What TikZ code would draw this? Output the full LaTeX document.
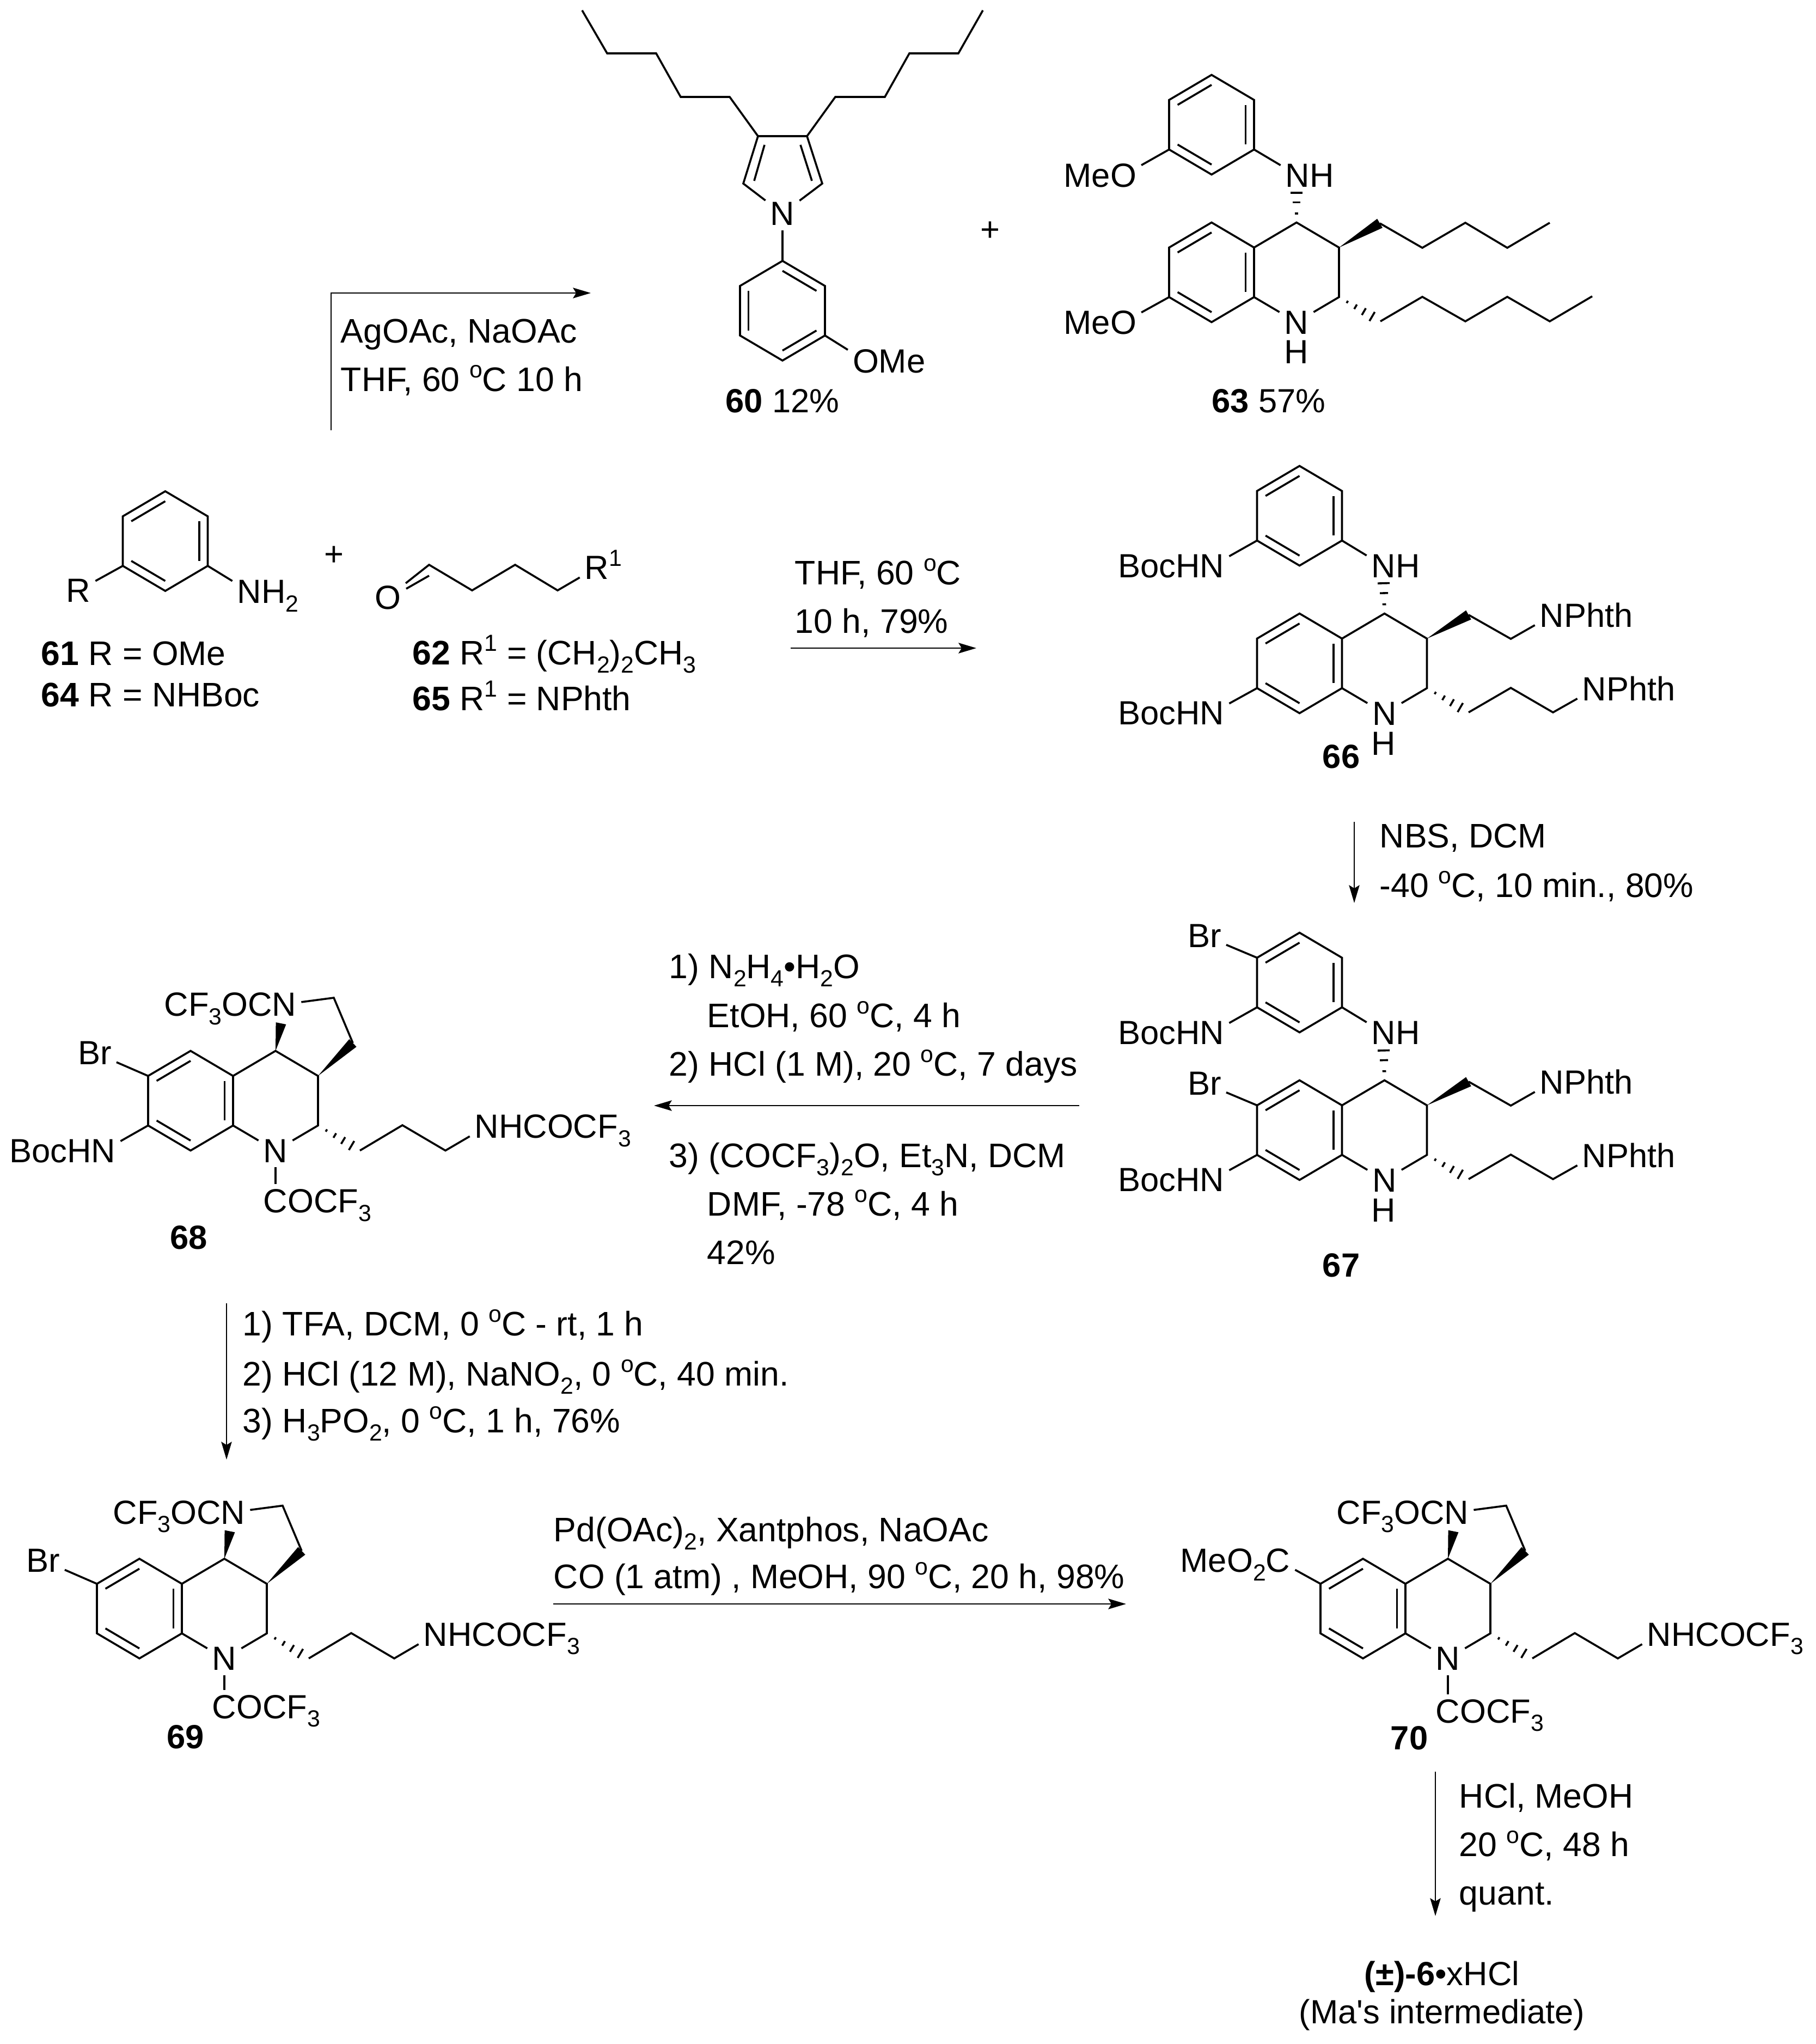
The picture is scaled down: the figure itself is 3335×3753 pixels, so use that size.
\documentclass[tikz,border=0pt]{standalone}
\usepackage{fontspec}
\setmainfont{Liberation Sans}
\usetikzlibrary{arrows.meta,calc}

\newcommand{\bsub}[1]{\raisebox{-3.2pt}{\fontsize{8.9}{9}\selectfont #1}}
\newcommand{\bsup}[1]{\raisebox{5pt}{\fontsize{8.9}{9}\selectfont #1}}

\tikzset{
	bondline/.style={line width=0.75pt,line join=miter},
	atomlab/.style={inner sep=1.7pt,text height=9pt,text depth=0pt},
	hlab/.style={inner sep=0pt,text height=9pt,text depth=0pt},
	condtxt/.style={anchor=base west,inner sep=0pt,font=\fontsize{13}{15}\selectfont},
	cmpdlab/.style={anchor=base,inner sep=0pt},
	rxnarrow/.style={line width=0.6pt,-{Stealth[length=6.8pt,width=4pt,inset=1.2pt]}}
}

% benzene ring: name, centre x, centre y, half width (negative mirrors it)
\newcommand{\sixring}[4]{
	\begin{scope}[shift={(#2,#3)}]
		\coordinate (#1-c) at (0,0);
		\coordinate (#1-t) at (0,-91.5);
		\coordinate (#1-ur) at (#4,-45.5);
		\coordinate (#1-lr) at (#4,45.5);
		\coordinate (#1-b) at (0,91.5);
		\coordinate (#1-ll) at ({-1*(#4)},45.5);
		\coordinate (#1-ul) at ({-1*(#4)},-45.5);
	\end{scope}
	\draw[bondline] (#1-t) -- (#1-ur) -- (#1-lr) -- (#1-b) -- (#1-ll) -- (#1-ul) -- cycle;
	\draw[bondline] ($(#1-c)!.8!(#1-ul)$) -- ($(#1-c)!.8!(#1-t)$);
	\draw[bondline] ($(#1-c)!.8!(#1-ur)$) -- ($(#1-c)!.8!(#1-lr)$);
	\draw[bondline] ($(#1-c)!.8!(#1-ll)$) -- ($(#1-c)!.8!(#1-b)$);
}
% ring with the saturated N ring on its right
\newcommand{\quincore}[3]{
	\sixring{#1}{#2}{#3}{78}
	\begin{scope}[shift={(#2,#3)}]
		\coordinate (#1-4) at (156,-91.5);
		\coordinate (#1-3) at (234,-45.5);
		\coordinate (#1-2) at (234,45.5);
		\node[atomlab] (#1-n) at (156,91.5) {N};
	\end{scope}
	\draw[bondline] (#1-ur) -- (#1-4) -- (#1-3) -- (#1-2) -- (#1-n) -- (#1-lr);
}
\newcommand{\wedgeb}[2]{
	\fill ($(#2)!2pt!90:(#1)$) -- (#1) -- ($(#2)!2pt!-90:(#1)$) -- cycle;
}
\newcommand{\hashb}[3]{
	\foreach \hp in {#3}{
		\draw[bondline] ($(#1)!\hp!(#2)!\hp*2.5pt!90:(#2)$) -- ($(#1)!\hp!(#2)!\hp*2.5pt!-90:(#2)$);
	}
}
% two NPhth side chains of 66 and 67
\newcommand{\phthchains}[3]{
	\begin{scope}[shift={(#2,#3)}]
		\coordinate (#1-wa) at (310.5,-89);
		\coordinate (#1-wb) at (310.5,90);
		\node[atomlab] (#1-na) at (463.5,-88) {N\rlap{Phth}};
		\node[atomlab] (#1-nb) at (541.5,47) {N\rlap{Phth}};
		\wedgeb{#1-3}{#1-wa}
		\hashb{#1-2}{#1-wb}{.2,.4,.6,.8}
		\draw[bondline] (#1-wa) -- (388,-45) -- (#1-na);
		\draw[bondline] (#1-wb) -- (388,45) -- (465.5,90) -- (#1-nb);
	\end{scope}
}
% tricyclic core of 68, 69, 70: last argument is the drop of the COCF3
\newcommand{\tricycle}[4]{
	\quincore{#1}{#2}{#3}
	\begin{scope}[shift={(#2,#3)}]
		\node[atomlab] (#1-pn) at (172,-177) {\llap{CF\bsub{3}OC}N};
		\coordinate (#1-p) at (263,-189);
		\coordinate (#1-wa) at (166,-142);
		\coordinate (#1-wb) at (298,-106);
		\coordinate (#1-hc) at (311,91.5);
		\node[atomlab] (#1-nc) at (544,47) {N\rlap{HCOCF\bsub{3}}};
		\node[atomlab] (#1-co) at (156,#4) {C\rlap{OCF\bsub{3}}};
		\wedgeb{#1-4}{#1-wa}
		\wedgeb{#1-3}{#1-wb}
		\hashb{#1-2}{#1-hc}{.2,.4,.6,.8}
		\draw[bondline] (#1-pn) -- (#1-p) -- (#1-wb);
		\draw[bondline] (#1-hc) -- (389,45) -- (468,91.5) -- (#1-nc);
		\draw[bondline] (#1-n) -- (#1-co);
	\end{scope}
}

\begin{document}
\begin{tikzpicture}[x=0.208pt,y=-0.208pt,every node/.style={font=\fontsize{12.8}{15}\selectfont}]
	\useasboundingbox (0,0) rectangle (3335,3753);

	% 60
	\sixring{a60}{1437}{570.5}{-78}
	\coordinate (p60-3) at (1392,250);
	\coordinate (p60-4) at (1482,250);
	\coordinate (p60-2) at (1365,337);
	\coordinate (p60-5) at (1510,337);
	\node[atomlab] (p60-n) at (1437,392) {N};
	\node[atomlab] (o60) at (1590,663) {O\rlap{Me}};
	\draw[bondline] (p60-n) -- (p60-2) -- (p60-3) -- (p60-4) -- (p60-5) -- (p60-n);
	\draw[bondline] (1404,266) -- (1385,332);
	\draw[bondline] (1470,266) -- (1491,332);
	\draw[bondline] (p60-n) -- (a60-t);
	\draw[bondline] (a60-ll) -- (o60);
	\draw[bondline] (p60-3) -- (1340,178) -- (1250,178) -- (1205,98) -- (1115,98) -- (1069,19);
	\draw[bondline] (p60-4) -- (1534,178) -- (1625,178) -- (1670,98) -- (1760,98) -- (1805,19);
	\node[cmpdlab] (lab60) at (1437,757) {\textbf{60} 12\%};
	\node[inner sep=0pt] (plus1) at (1818,425) {+};

	% 63
	\sixring{a63}{2225}{229}{78}
	\quincore{q63}{2225}{500}
	\node[atomlab] (o63a) at (2063,322) {\llap{Me}O};
	\node[atomlab] (o63b) at (2063,592) {\llap{Me}O};
	\node[atomlab] (nh63) at (2383,322) {N\rlap{H}};
	\node[hlab] (h63) at (2381,646) {H};
	\coordinate (q63-hx) at (2381,349);
	\coordinate (q63-wa) at (2534,410);
	\coordinate (q63-hb) at (2535,590);
	\draw[bondline] (a63-ll) -- (o63a);
	\draw[bondline] (q63-ll) -- (o63b);
	\draw[bondline] (a63-lr) -- (nh63);
	\hashb{q63-4}{q63-hx}{.28,.62,.92}
	\wedgeb{q63-3}{q63-wa}
	\hashb{q63-2}{q63-hb}{.2,.4,.6,.8}
	\draw[bondline] (q63-wa) -- (2612,455) -- (2691,409) -- (2768,455) -- (2846,409);
	\draw[bondline] (q63-hb) -- (2612,545) -- (2691,590) -- (2768,545) -- (2846,590) -- (2924,544);
	\node[cmpdlab] (lab63) at (2330,757) {\textbf{63} 57\%};

	% 61/64 and 62/65
	\sixring{a61}{303.5}{993.5}{78}
	\node[atomlab] (r61) at (144,1084) {R};
	\node[atomlab] (nh61) at (458,1086) {N\rlap{H\bsub{2}}};
	\draw[bondline] (a61-ll) -- (r61);
	\draw[bondline] (a61-lr) -- (nh61);
	\node[inner sep=0pt] (plus2) at (613,1021) {+};
	\node[atomlab] (o62) at (712,1097) {O};
	\coordinate (c62) at (788,1037);
	\node[atomlab] (r62) at (1096,1042) {R\rlap{\bsup{1}}};
	\draw[bondline] (o62) -- (c62) -- (867,1084) -- (946,1037) -- (1024,1084) -- (r62);
	\draw[bondline] (746,1081) -- (788,1057);
	\node[condtxt] (lab61) at (75,1221) {\textbf{61} R = OMe};
	\node[condtxt] (lab64) at (75,1297) {\textbf{64} R = NHBoc};
	\node[condtxt] (lab62) at (757,1220) {\textbf{62} R\bsup{1} = (CH\bsub{2})\bsub{2}CH\bsub{3}};
	\node[condtxt] (lab65) at (757,1304) {\textbf{65} R\bsup{1} = NPhth};

	% 66
	\sixring{a66}{2386.5}{947}{78}
	\quincore{q66}{2386.5}{1218}
	\node[atomlab] (n66a) at (2226,1039) {\llap{BocH}N};
	\node[atomlab] (n66b) at (2226,1309) {\llap{BocH}N};
	\node[atomlab] (nh66) at (2541,1039) {N\rlap{H}};
	\node[hlab] (h66) at (2541,1365) {H};
	\coordinate (q66-hx) at (2541,1066);
	\draw[bondline] (a66-ll) -- (n66a);
	\draw[bondline] (a66-lr) -- (nh66);
	\draw[bondline] (q66-ll) -- (n66b);
	\hashb{q66-4}{q66-hx}{.28,.62,.92}
	\phthchains{q66}{2386.5}{1218}
	\node[cmpdlab] (lab66) at (2463,1410) {\textbf{66}};

	% 67
	\sixring{a67}{2386.5}{1804}{78}
	\quincore{q67}{2386.5}{2075}
	\node[atomlab] (br67a) at (2212,1718) {Br};
	\node[atomlab] (br67b) at (2212,1989) {Br};
	\node[atomlab] (n67a) at (2226,1896) {\llap{BocH}N};
	\node[atomlab] (n67b) at (2226,2166) {\llap{BocH}N};
	\node[atomlab] (nh67) at (2541,1896) {N\rlap{H}};
	\node[hlab] (h67) at (2541,2222) {H};
	\coordinate (q67-hx) at (2541,1924);
	\draw[bondline] (a67-ul) -- (br67a);
	\draw[bondline] (q67-ul) -- (br67b);
	\draw[bondline] (a67-ll) -- (n67a);
	\draw[bondline] (a67-lr) -- (nh67);
	\draw[bondline] (q67-ll) -- (n67b);
	\hashb{q67-4}{q67-hx}{.28,.62,.92}
	\phthchains{q67}{2386.5}{2075}
	\node[cmpdlab] (lab67) at (2463,2344) {\textbf{67}};

	% 68
	\tricycle{q68}{350}{2021}{184}
	\node[atomlab] (br68) at (174,1933) {Br};
	\node[atomlab] (n68) at (190,2113) {\llap{BocH}N};
	\draw[bondline] (q68-ul) -- (br68);
	\draw[bondline] (q68-ll) -- (n68);
	\node[cmpdlab] (lab68) at (347,2293) {\textbf{68}};

	% 69
	\tricycle{q69}{256}{2953.5}{180}
	\node[atomlab] (br69) at (79,2865) {Br};
	\draw[bondline] (q69-ul) -- (br69);
	\node[cmpdlab] (lab69) at (341,3210) {\textbf{69}};

	% 70
	\tricycle{q70}{2503}{2953.5}{188}
	\node[atomlab] (c70) at (2347,2865) {\llap{MeO\bsub{2}}C};
	\draw[bondline] (q70-ul) -- (c70);
	\node[cmpdlab] (lab70) at (2588,3212) {\textbf{70}};

	% 6
	\node[anchor=base,inner sep=0pt] (lab6) at (2648,3645) {\textbf{(±)-6}•xHCl};
	\node[anchor=base,inner sep=0pt] (lab6b) at (2648,3715) {(Ma\textquotesingle s intermediate)};

	% arrows
	\coordinate (r1a) at (608,790);
	\coordinate (r1b) at (608,538);
	\coordinate (r1c) at (1085,538);
	\draw[rxnarrow] (r1a) -- (r1b) -- (r1c);
	\coordinate (r2a) at (1452,1190);
	\coordinate (r2b) at (1793,1190);
	\draw[rxnarrow] (r2a) -- (r2b);
	\coordinate (r3a) at (2487,1509);
	\coordinate (r3b) at (2487,1658);
	\draw[rxnarrow] (r3a) -- (r3b);
	\coordinate (r4a) at (1982,2030);
	\coordinate (r4b) at (1201,2030);
	\draw[rxnarrow] (r4a) -- (r4b);
	\coordinate (r5a) at (416,2393);
	\coordinate (r5b) at (416,2680);
	\draw[rxnarrow] (r5a) -- (r5b);
	\coordinate (r6a) at (1016,2945);
	\coordinate (r6b) at (2068,2945);
	\draw[rxnarrow] (r6a) -- (r6b);
	\coordinate (r7a) at (2636,3253);
	\coordinate (r7b) at (2636,3518);
	\draw[rxnarrow] (r7a) -- (r7b);

	% conditions
	\node[condtxt] (c1a) at (625,629) {AgOAc, NaOAc};
	\node[condtxt] (c1b) at (625,718) {THF, 60 \bsup{o}C 10 h};
	\node[condtxt] (c2a) at (1459,1073) {THF, 60 \bsup{o}C};
	\node[condtxt] (c2b) at (1459,1162) {10 h, 79\%};
	\node[condtxt] (c3a) at (2533,1556) {NBS, DCM};
	\node[condtxt] (c3b) at (2533,1647) {-40 \bsup{o}C, 10 min., 80\%};
	\node[condtxt] (c4a) at (1228,1796) {1) N\bsub{2}H\bsub{4}•H\bsub{2}O};
	\node[condtxt] (c4b) at (1298,1886) {EtOH, 60 \bsup{o}C, 4 h};
	\node[condtxt] (c4c) at (1228,1975) {2) HCl (1 M), 20 \bsup{o}C, 7 days};
	\node[condtxt] (c4d) at (1228,2143) {3) (COCF\bsub{3})\bsub{2}O, Et\bsub{3}N, DCM};
	\node[condtxt] (c4e) at (1298,2232) {DMF, -78 \bsup{o}C, 4 h};
	\node[condtxt] (c4f) at (1298,2321) {42\%};
	\node[condtxt] (c5a) at (445,2452) {1) TFA, DCM, 0 \bsup{o}C - rt, 1 h};
	\node[condtxt] (c5b) at (445,2544) {2) HCl (12 M), NaNO\bsub{2}, 0 \bsup{o}C, 40 min.};
	\node[condtxt] (c5c) at (445,2630) {3) H\bsub{3}PO\bsub{2}, 0 \bsup{o}C, 1 h, 76\%};
	\node[condtxt] (c6a) at (1016,2830) {Pd(OAc)\bsub{2}, Xantphos, NaOAc};
	\node[condtxt] (c6b) at (1016,2916) {CO (1 atm) , MeOH, 90 \bsup{o}C, 20 h, 98\%};
	\node[condtxt] (c7a) at (2679,3319) {HCl, MeOH};
	\node[condtxt] (c7b) at (2679,3408) {20 \bsup{o}C, 48 h};
	\node[condtxt] (c7c) at (2679,3497) {quant.};
\end{tikzpicture}
\end{document}
